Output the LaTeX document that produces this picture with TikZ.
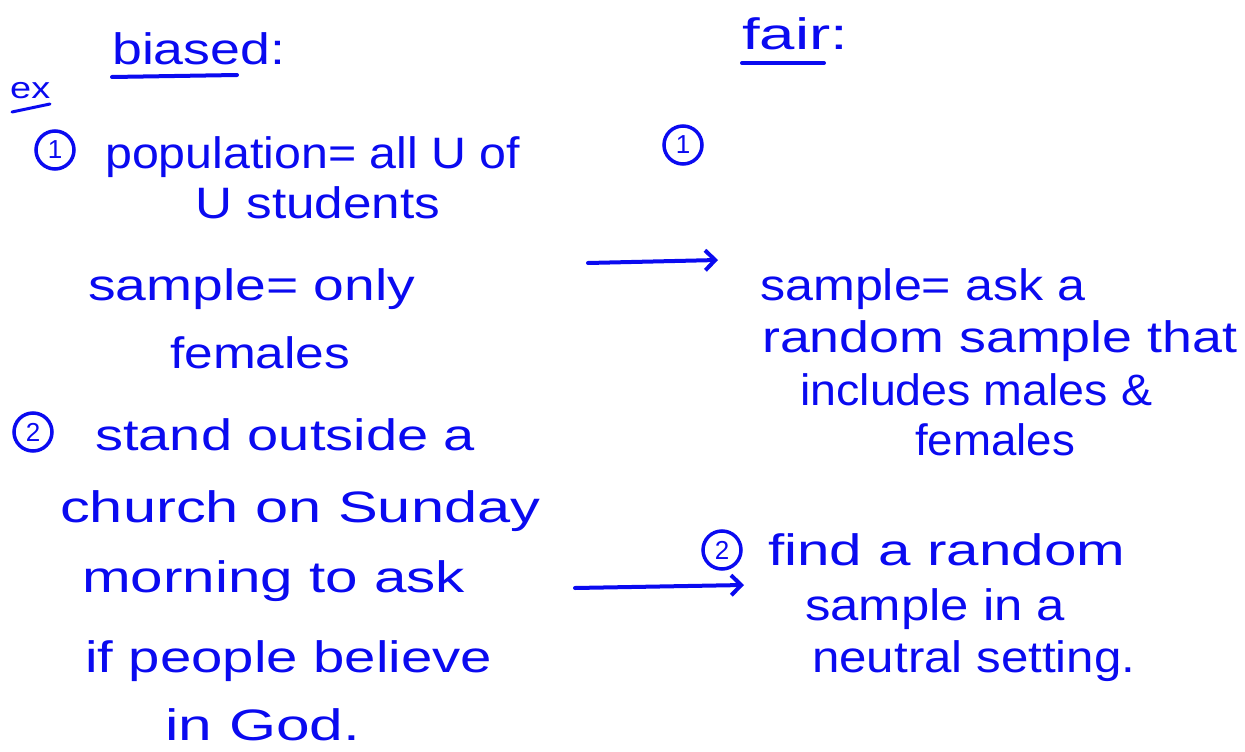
\documentclass[tikz,border=0pt]{standalone}
\usepackage{fontspec}
\setmainfont{Liberation Sans}
\usetikzlibrary{arrows.meta}
\definecolor{ink}{RGB}{10,10,240}
\newcommand\fitw[2]{\resizebox{#1}{\height}{#2}}
\tikzset{
  hand/.style={text=ink, font=\fontsize{44}{48}\selectfont, inner sep=0pt, anchor=base west},
  small/.style={text=ink, font=\fontsize{30}{32}\selectfont, inner sep=0pt, anchor=base west},
  pen/.style={draw=ink, line width=4pt, line cap=round, line join=round},
  arr/.style={pen, -{Straight Barb[length=10pt,width=20pt,line width=4pt]}},
  num/.style={circle, draw=ink, line width=3.5pt, text=ink, font=\fontsize{26}{28}\selectfont, minimum size=38pt, inner sep=0pt}
}
\begin{document}
\begin{tikzpicture}[x=1pt,y=-1pt]
\useasboundingbox (0,0) rectangle (1245,752);
% left column
\node[hand] (biased) at (112,65) {\fitw{173pt}{biased:}};
\draw[pen] ([yshift=-12pt]biased.base west) -- ++(125,-2);
\node[small] (ex) at (10,98) {\fitw{40pt}{ex}};
\draw[pen, line width=3pt] (12,112) -- (50,104);
\node[num] (n1) at (55,150) {1};
\node[hand] (l1) at (105,168) {\fitw{415pt}{population= all U of}};
\node[hand] (l2) at (195,218) {\fitw{245pt}{U students}};
\node[hand] (l3) at (88,300) {\fitw{327pt}{sample= only}};
\node[hand] (l4) at (170,368) {\fitw{180pt}{females}};
\node[num] (n2) at (33,432) {2};
\node[hand] (l5) at (95,450) {\fitw{380pt}{stand outside a}};
\node[hand] (l6) at (60,522) {\fitw{480pt}{church on Sunday}};
\node[hand] (l7) at (82,592) {\fitw{383pt}{morning to ask}};
\node[hand] (l8) at (85,672) {\fitw{407pt}{if people believe}};
\node[hand] (l9) at (165,740) {\fitw{195pt}{in God.}};
% right column
\node[hand] (fair) at (742,50) {\fitw{106pt}{fair:}};
\draw[pen] ([yshift=-13pt]fair.base west) -- ++(82,0);
\node[num] (m1) at (683,145) {1};
\node[hand] (r1) at (760,300) {\fitw{325pt}{sample= ask a}};
\node[hand] (r2) at (762,352) {\fitw{475pt}{random sample that}};
\node[hand] (r3) at (800,405) {\fitw{352pt}{includes males \&}};
\node[hand] (r4) at (915,455) {\fitw{160pt}{females}};
\node[num] (m2) at (722,550) {2};
\node[hand] (r5) at (768,565) {\fitw{357pt}{find a random}};
\node[hand] (r6) at (805,620) {\fitw{260pt}{sample in a}};
\node[hand] (r7) at (812,672) {\fitw{323pt}{neutral setting.}};
% arrows
\coordinate (a1s) at (588,263);
\coordinate (a1e) at (718,260);
\draw[arr] (a1s) -- (a1e);
\coordinate (a2s) at (575,588);
\coordinate (a2e) at (744,585);
\draw[arr] (a2s) -- (a2e);
\end{tikzpicture}
\end{document}
